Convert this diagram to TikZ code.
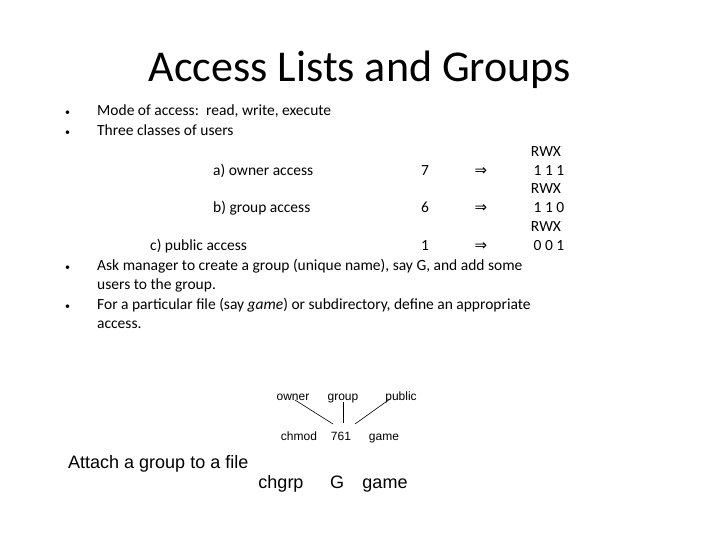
\documentclass[tikz,border=0pt]{standalone}
\usepackage{fontspec}
\setmainfont{Carlito}
\newfontfamily\arial{Liberation Sans}
\newfontfamily\dv{DejaVu Sans}
\begin{document}
\begin{tikzpicture}[x=1pt,y=-1pt,
  txt/.style={anchor=base west,inner sep=0pt,font=\fontsize{15.5}{17}\selectfont},
  ctr/.style={anchor=base,inner sep=0pt,font=\fontsize{15.5}{17}\selectfont},
  bul/.style={anchor=base west,inner sep=0pt,font=\fontsize{10}{12}\selectfont},
  ar/.style={anchor=base,inner sep=0pt,font=\arial\fontsize{12}{14}\selectfont},
  arb/.style={anchor=base,inner sep=0pt,font=\arial\fontsize{18}{20}\selectfont},
  conn/.style={draw,line width=0.6pt}]
\useasboundingbox (0,0) rectangle (720,540);
\node[anchor=base,inner sep=0pt,font=\fontsize{44}{48}\selectfont] (title) at (360,82) {Access Lists and Groups};
\node[bul] (b1) at (65,116) {\textbullet};
\node[bul] (b2) at (65,136) {\textbullet};
\node[bul] (b3) at (65,270) {\textbullet};
\node[bul] (b4) at (65,309) {\textbullet};
\node[txt] (l1) at (97,116) {Mode of access:\, read, write, execute};
\node[txt] (l2) at (97,136) {Three classes of users};
\node[txt] (a) at (213,176) {a) owner access};
\node[txt] (b) at (213,213) {b) group access};
\node[txt] (c) at (150,250) {c) public access};
\node[ctr] (n7) at (425,176) {7};
\node[ctr] (n6) at (425,213) {6};
\node[ctr] (n1) at (425,250) {1};
\node[ctr,font=\dv\fontsize{15}{17}\selectfont] (i1) at (481,176) {⇒};
\node[ctr,font=\dv\fontsize{15}{17}\selectfont] (i2) at (481,213) {⇒};
\node[ctr,font=\dv\fontsize{15}{17}\selectfont] (i3) at (481,250) {⇒};
\node[ctr] (r1) at (546,157) {RWX};
\node[ctr] (v1) at (549,176) {1 1 1};
\node[ctr] (r2) at (546,194) {RWX};
\node[ctr] (v2) at (549,213) {1 1 0};
\node[ctr] (r3) at (546,231) {RWX};
\node[ctr] (v3) at (549,250) {0 0 1};
\node[txt] (l3) at (97,270) {Ask manager to create a group (unique name), say G, and add some};
\node[txt] (l3b) at (97,289) {users to the group.};
\node[txt] (l4) at (97,309) {For a particular file (say \textit{game}) or subdirectory, define an appropriate};
\node[txt] (l4b) at (97,328) {access.};
\node[ar] (own) at (293,400) {owner};
\node[ar] (grp) at (343,400) {group};
\node[ar] (pub) at (401,400) {public};
\node[ar] (chm) at (299,440) {chmod};
\node[ar] (num) at (341,440) {761};
\node[ar] (gam) at (384,440) {game};
\draw[conn] (295,400) -- (333,424);
\draw[conn] (343,402) -- (343,423);
\draw[conn] (390,399) -- (355,424);
\node[arb,anchor=base west] (att) at (68,468) {Attach a group to a file};
\node[arb] (chg) at (281,488) {chgrp};
\node[arb] (g) at (337,488) {G};
\node[arb] (gm) at (385,488) {game};
\end{tikzpicture}
\end{document}
